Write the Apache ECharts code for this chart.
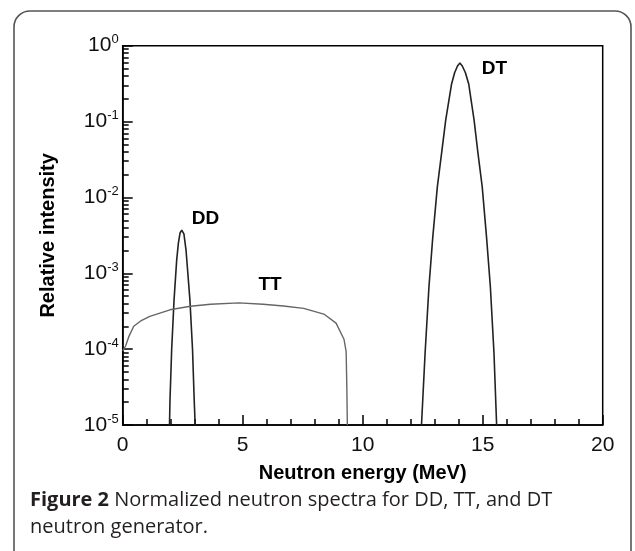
<!DOCTYPE html>
<html>
<head>
<meta charset="utf-8">
<script src="https://cdn.jsdelivr.net/npm/echarts@6/dist/echarts.min.js"></script>
<style>html,body{margin:0;padding:0;background:#fff;}#c{width:635px;height:551px;}</style>
</head>
<body>
<div id="c"></div>
<script>
// ---- data ----
const ddEnergy    = [1.95, 1.97, 2.04, 2.14, 2.25, 2.32, 2.39, 2.46, 2.5, 2.55, 2.64, 2.8, 2.91, 2.98, 3.02];
const ddIntensity = [1e-5, 2.1e-5, 9.8e-5, 4.5e-4, 1.5e-3, 2.5e-3, 3.4e-3, 3.7e-3, 3.6e-3, 3.3e-3, 2.0e-3, 4.5e-4, 9.8e-5, 2.1e-5, 1e-5];

const ttEnergy    = [0, 0.12, 0.25, 0.46, 0.75, 1.13, 1.97, 2.82, 3.66, 4.84, 5.85, 6.7, 7.54, 8.38, 8.89, 9.22, 9.31, 9.34, 9.36];
const ttIntensity = [9.5e-5, 1.1e-4, 1.45e-4, 2.0e-4, 2.35e-4, 2.7e-4, 3.3e-4, 3.67e-4, 3.9e-4, 4.07e-4, 3.9e-4, 3.7e-4, 3.45e-4, 2.9e-4, 2.2e-4, 1.35e-4, 9.3e-5, 3e-5, 1e-5];

const dtEnergy    = [12.45, 12.6, 12.76, 12.92, 13.11, 13.29, 13.46, 13.7, 13.83, 13.95, 14.05, 14.15, 14.28, 14.42, 14.64, 14.8, 14.98, 15.16, 15.32, 15.47, 15.58];
const dtIntensity = [1e-5, 8.9e-5, 6.6e-4, 3.0e-3, 0.0138, 0.039, 0.105, 0.31, 0.44, 0.54, 0.59, 0.54, 0.44, 0.31, 0.105, 0.039, 0.0138, 3.0e-3, 6.6e-4, 8.9e-5, 1e-5];

const seriesNames = ['DD', 'TT', 'DT'];
const labelPos = { DD: [3.45, 5.3e-3], TT: [6.14, 7e-4], DT: [15.49, 0.49] };

const xTicksMajor = 5;
const yDecades = [-5, -4, -3, -2, -1, 0];
const minorMultipliers = [2, 3, 4, 5, 6, 7, 8, 9];

const xTitle = 'Neutron energy (MeV)';
const yTitle = 'Relative intensity';
const captionBold = 'Figure 2';
const captionRest = ' Normalized neutron spectra for DD, TT, and DT\nneutron generator.';

// ---- build ----
function pairs(xs, ys) { return xs.map((x, i) => [x, ys[i]]); }
const minorTickValues = [];
yDecades.slice(0, -1).forEach(d => minorMultipliers.forEach(m => minorTickValues.push(d + Math.log10(m))));

const axisColor = '#000';
const tickFont = "'Liberation Sans', Arial, sans-serif";

function lineSeries(name, xs, ys, color, width) {
  return {
    name: name, type: 'line', data: pairs(xs, ys), showSymbol: false, symbol: 'none',
    lineStyle: { color: color, width: width }, clip: true, silent: true, animation: false,
    markPoint: {
      symbol: 'circle', symbolSize: 1, itemStyle: { color: 'rgba(0,0,0,0)' },
      data: [{ coord: labelPos[name] }],
      label: { show: true, position: 'inside', formatter: name, color: '#000',
               fontFamily: tickFont, fontWeight: 'bold', fontSize: 19 }
    }
  };
}

const chart = echarts.init(document.getElementById('c'), null, { renderer: 'canvas' });
chart.setOption({
  backgroundColor: '#fff',
  animation: false,
  grid: { left: 122.7, right: 32.3, top: 45.7, bottom: 126, show: true,
          borderColor: axisColor, borderWidth: 1.5, backgroundColor: 'transparent' },
  xAxis: {
    type: 'value', min: 0, max: 20, interval: xTicksMajor,
    name: xTitle, nameLocation: 'middle', nameGap: 38,
    nameTextStyle: { fontFamily: tickFont, fontSize: 20, fontWeight: 'bold', color: '#000' },
    axisLine: { show: true, onZero: false, lineStyle: { color: axisColor, width: 1.5 } },
    axisTick: { show: true, inside: true, length: 10, lineStyle: { color: axisColor, width: 1.5 } },
    minorTick: { show: true, splitNumber: 5, length: 6, lineStyle: { color: axisColor, width: 1.5 } },
    splitLine: { show: false },
    axisLabel: { margin: 10, fontFamily: tickFont, fontSize: 21, color: '#111' }
  },
  yAxis: [{
    type: 'log', logBase: 10, min: 1e-5, max: 1, interval: 1,
    name: yTitle, nameLocation: 'middle', nameGap: 64,
    nameTextStyle: { fontFamily: tickFont, fontSize: 20, fontWeight: 'bold', color: '#000' },
    axisLine: { show: true, lineStyle: { color: axisColor, width: 1.5 } },
    axisTick: { show: true, inside: true, length: 10, lineStyle: { color: axisColor, width: 1.5 } },
    splitLine: { show: false },
    axisLabel: {
      margin: 4, color: '#111',
      formatter: function (v) { return '{b|10}{s|' + Math.round(Math.log10(v)) + '}'; },
      rich: {
        b: { fontFamily: tickFont, fontSize: 21, color: '#111' },
        s: { fontFamily: tickFont, fontSize: 13, color: '#111', verticalAlign: 'top', padding: [0, 0, 12, 0] }
      }
    }
  }, {
    type: 'value', min: -5, max: 0, position: 'left', offset: 0,
    axisLine: { show: false }, axisLabel: { show: false }, splitLine: { show: false },
    axisTick: { show: true, inside: true, length: 6, customValues: minorTickValues,
                lineStyle: { color: axisColor, width: 1.5 } }
  }],
  series: [
    lineSeries(seriesNames[0], ddEnergy, ddIntensity, '#222', 1.6),
    lineSeries(seriesNames[1], ttEnergy, ttIntensity, '#666', 1.4),
    lineSeries(seriesNames[2], dtEnergy, dtIntensity, '#222', 1.6)
  ],
  graphic: [
    { type: 'rect', silent: true, z: -1,
      shape: { x: 14, y: 11, width: 617, height: 580, r: 16 },
      style: { fill: 'none', stroke: '#555', lineWidth: 1.6 } },
    { type: 'text', left: 30, top: 487, silent: true,
      style: {
        text: '{bo|' + captionBold + '}' + captionRest,
        font: "20px 'Open Sans', sans-serif", fill: '#231f20', lineHeight: 27,
        rich: { bo: { fontFamily: "'Open Sans', sans-serif", fontSize: 20, fontWeight: 'bold', fill: '#231f20' } }
      } }
  ]
});
</script>
</body>
</html>
